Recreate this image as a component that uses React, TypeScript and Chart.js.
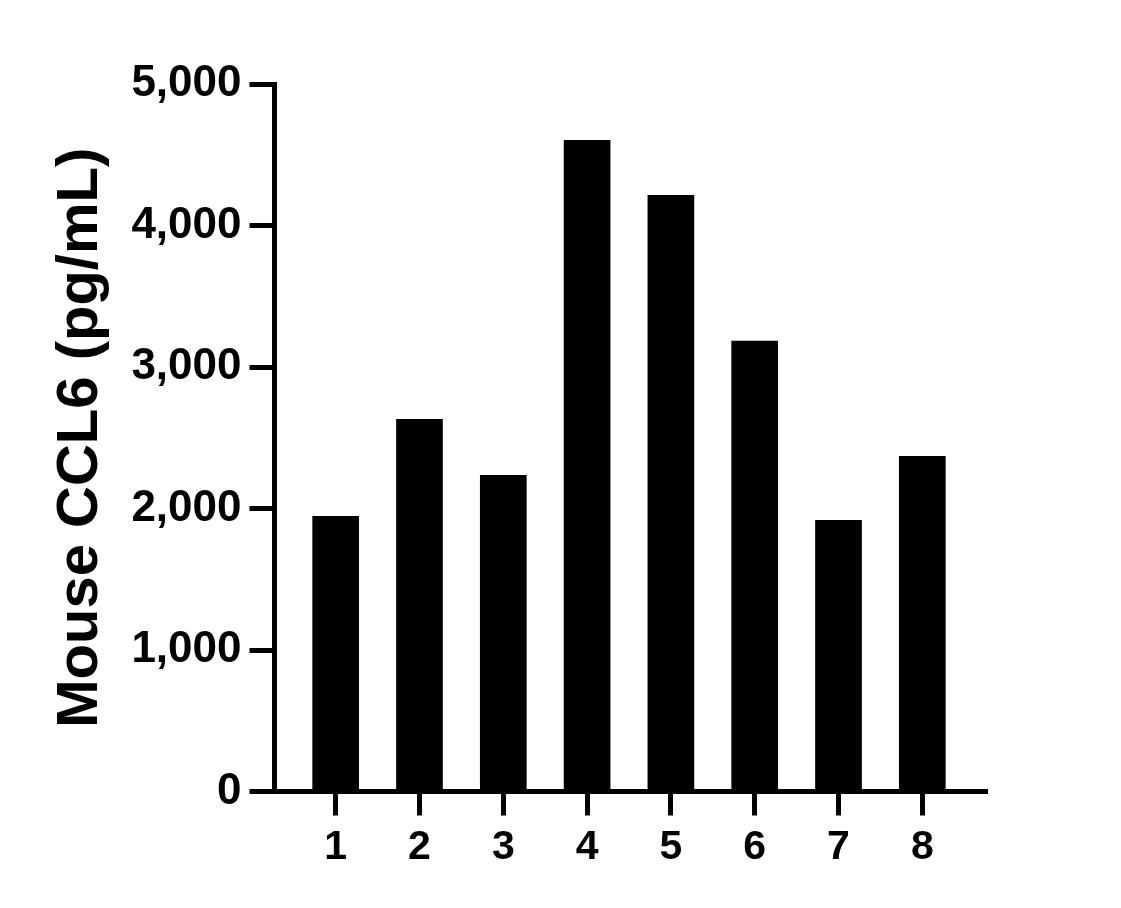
import React, { useEffect, useRef } from "react";
import { Chart, registerables } from "chart.js";

Chart.register(...registerables);

const categories = ["1", "2", "3", "4", "5", "6", "7", "8"];
const values = [1947, 2633, 2237, 4604, 4216, 3186, 1919, 2371];
const yTicks = [0, 1000, 2000, 3000, 4000, 5000];
const yTitle = "Mouse CCL6 (pg/mL)";

const FONT = "'Liberation Sans', Arial, Helvetica, sans-serif";

export default function App() {
  const ref = useRef<HTMLCanvasElement | null>(null);

  useEffect(() => {
    document.body.style.margin = "0";
    const canvas = ref.current;
    if (!canvas) return;
    const chart = new Chart(canvas, {
      type: "bar",
      data: {
        datasets: [
          {
            data: categories.map((c, i) => ({ x: i + 1, y: values[i] })),
            backgroundColor: "#000000",
            borderWidth: 0,
            barPercentage: 1,
            categoryPercentage: 0.557,
          },
        ],
      },
      options: {
        responsive: false,
        animation: false,
        devicePixelRatio: 1,
        layout: { padding: { left: 0, right: 135.5, top: 84, bottom: 0 } },
        plugins: { legend: { display: false }, tooltip: { enabled: false } },
        scales: {
          x: {
            type: "linear",
            min: 0.27,
            max: 8.754,
            offset: false,
            afterBuildTicks: (scale: any) => {
              scale.ticks = categories.map((_, i) => ({ value: i + 1 }));
            },
            afterFit: (scale: any) => {
              scale.height = 116.5;
            },
            ticks: {
              autoSkip: false,
              maxRotation: 0,
              color: "#000",
              padding: 8,
              font: { family: FONT, size: 41, weight: "bold" },
              callback: (v: any) => {
                const i = Math.round(Number(v)) - 1;
                return categories[i] ?? "";
              },
            },
            grid: {
              offset: false,
              drawOnChartArea: false,
              drawTicks: true,
              tickLength: 24,
              lineWidth: 5,
              color: "#000",
            },
            border: { display: true, color: "#000", width: 5 },
          },
          y: {
            min: 0,
            max: 5000,
            afterBuildTicks: (scale: any) => {
              scale.ticks = yTicks.map((v) => ({ value: v }));
            },
            afterFit: (scale: any) => {
              scale.width = 274.5;
            },
            ticks: {
              color: "#000",
              padding: 8,
              font: { family: FONT, size: 44, weight: "bold" },
              callback: (v: any) => Number(v).toLocaleString("en-US"),
            },
            grid: {
              drawOnChartArea: false,
              drawTicks: true,
              tickLength: 25,
              lineWidth: 5,
              color: "#000",
            },
            border: { display: true, color: "#000", width: 5 },
            title: {
              display: true,
              text: yTitle,
              color: "#000",
              padding: { top: 46, bottom: 0 },
              font: { family: FONT, size: 58, weight: "bold" },
            },
          },
        },
      },
    });
    return () => chart.destroy();
  }, []);

  return (
    <div style={{ width: 1121, height: 908, background: "#fff" }}>
      <canvas ref={ref} width={1121} height={908} style={{ display: "block" }} />
    </div>
  );
}
